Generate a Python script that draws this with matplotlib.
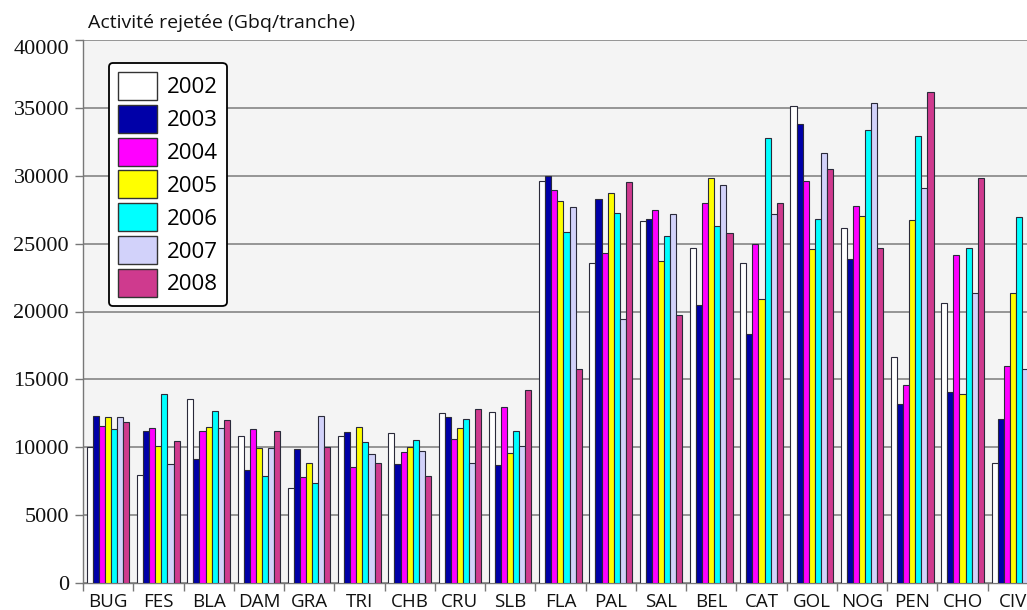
"""Grouped bar chart: activité rejetée per site, 2002-2008."""

import matplotlib

matplotlib.use("Agg")
import matplotlib.pyplot as plt
import numpy as np
from matplotlib.patches import Patch

sites = ["BUG", "FES", "BLA", "DAM", "GRA", "TRI", "CHB", "CRU", "SLB", "FLA",
         "PAL", "SAL", "BEL", "CAT", "GOL", "NOG", "PEN", "CHO", "CIV"]
years = ["2002", "2003", "2004", "2005", "2006", "2007", "2008"]

v2002 = [10000, 7980, 13550, 10850, 6970, 10850, 11020, 12500, 12570, 29610,
         23590, 26640, 24650, 23590, 35110, 26150, 16620, 20620, 8860]
v2003 = [12320, 11200, 9130, 8300, 9850, 11100, 8790, 12230, 8720, 29980,
         28290, 26810, 20450, 18320, 33790, 23840, 13160, 14050, 12080]
v2004 = [11590, 11420, 11200, 11340, 7810, 8540, 9630, 10580, 12960, 28920,
         24310, 27450, 27970, 24990, 29590, 27770, 14560, 24160, 16020]
v2005 = [12230, 10120, 11520, 9940, 8860, 11520, 9990, 11420, 9600, 28110,
         28750, 23740, 29830, 20900, 24580, 27030, 26720, 13900, 21380]
v2006 = [11320, 13950, 12650, 7880, 7390, 10360, 10510, 12060, 11170, 25880,
         27280, 25590, 26320, 32780, 26790, 33370, 32950, 24650, 26960]
v2007 = [12230, 8790, 11420, 9970, 12320, 9530, 9700, 8860, 10090, 27700,
         19470, 27200, 29340, 27200, 31650, 35330, 29120, 21380, 15790]
# last CIV bar lies outside the visible frame of the source
v2008 = [11830, 10460, 11980, 11200, 10020, 8860, 7880, 12820, 14220, 15790,
         29520, 19740, 25800, 28010, 30500, 24650, 36140, 29830, np.nan]

series = [v2002, v2003, v2004, v2005, v2006, v2007, v2008]
colors = ["#ffffff", "#0000a8", "#ff00ff", "#ffff00", "#00ffff", "#d2d2fa", "#cf3a8e"]

SANS = "Open Sans"
SERIF = "Liberation Serif"
W, H = 1027, 610

fig = plt.figure(figsize=(W / 100, H / 100), dpi=100, facecolor="white")
left, bottom, top, right = 83, 27, 40, 1038
ax = fig.add_axes([left / W, bottom / H, (right - left) / W, (H - bottom - top) / H])
ax.set_facecolor("#f4f4f4")

bw = 0.121
off = 0.075
x = np.arange(len(sites))
for j, (vals, c) in enumerate(zip(series, colors)):
    ax.bar(x + off + bw * (j + 0.5), vals, width=bw, color=c,
           edgecolor="#2a2a3a", linewidth=0.8, zorder=3)

ax.set_xlim(0, len(sites))
ax.set_ylim(0, 40000)
ax.set_yticks(np.arange(0, 40001, 5000))
ax.yaxis.grid(True, color="#8e8e8e", linewidth=1.3, zorder=1)
ax.set_axisbelow(True)

ax.set_xticks(x + 0.5)
ax.set_xticklabels(sites, fontfamily=SANS, fontsize=13.5)
ax.set_xticks(np.arange(len(sites) + 1), minor=True)
ax.tick_params(axis="x", which="major", length=0, pad=7, colors="#111111")
ax.tick_params(axis="x", which="minor", length=6, color="#777777", width=1)
ax.tick_params(axis="y", length=6, color="#777777", width=1, pad=4)
ylabels = ax.get_yticklabels()
for lab in ylabels:
    lab.set_fontfamily(SERIF)
    lab.set_fontsize(16)
    lab.set_color("#111111")
# the top label sits just under its gridline in the source
ylabels[-1].set_verticalalignment("top")

for side in ("top", "right"):
    ax.spines[side].set_visible(False)
for side in ("left", "bottom"):
    ax.spines[side].set_color("#777777")
    ax.spines[side].set_linewidth(1)

fig.text(88 / W, 1 - 28 / H, "Activité rejetée (Gbq/tranche)",
         fontfamily=SANS, fontsize=14, color="#111111", va="baseline")

handles = [Patch(facecolor=c, edgecolor="#333333", linewidth=1) for c in colors]
leg = ax.legend(handles, years, loc="upper left",
                bbox_to_anchor=(109 / W, 1 - 63 / H), bbox_transform=fig.transFigure,
                prop={"family": SANS, "size": 16}, frameon=True, fancybox=True,
                handlelength=1.76, handleheight=1.56, handletextpad=0.45,
                labelspacing=0.22, borderpad=0.4, borderaxespad=0)
leg.get_frame().set_edgecolor("#000000")
leg.get_frame().set_linewidth(1.3)
leg.get_frame().set_facecolor("white")
leg.get_frame().set_alpha(1)

fig.savefig("out.png", dpi=100, facecolor="white")
